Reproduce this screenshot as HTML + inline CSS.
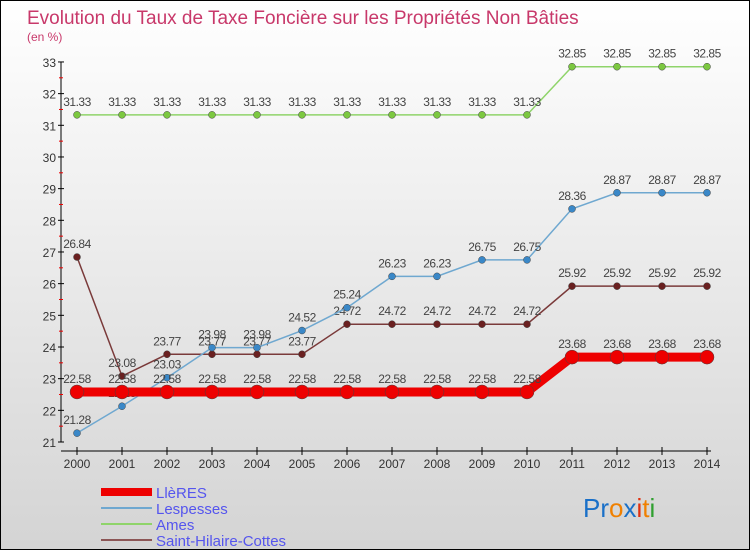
<!DOCTYPE html>
<html><head><meta charset="utf-8"><style>
body{margin:0}
#c{width:748px;height:548px;border:1px solid #000;background:linear-gradient(#fff,#d4d4d4);position:relative;font-family:"Liberation Sans",sans-serif;overflow:hidden}
</style></head><body>
<div id="c">
<svg id="s" width="748" height="548">
<text x="26" y="23" font-size="19" fill="#c8386a">Evolution du Taux de Taxe Foncière sur les Propriétés Non Bâties</text>
<text x="26" y="40" font-size="12" fill="#c8386a">(en %)</text>
<g id="ax"></g><g id="ser"></g>
<g font-size="15" fill="#5555ee">
<rect x="100" y="487" width="51" height="8" fill="#e00"/>
<text x="155" y="497">LlèRES</text>
<rect x="100" y="506" width="51" height="2" fill="#6fa8d0"/>
<text x="155" y="513">Lespesses</text>
<rect x="100" y="522" width="51" height="2" fill="#8fd46a"/>
<text x="155" y="529">Ames</text>
<rect x="100" y="538" width="51" height="2" fill="#8b5555"/>
<text x="155" y="545">Saint-Hilaire-Cottes</text>
</g>
<text x="582" y="516" font-size="26"><tspan fill="#1a70c8">Pr</tspan><tspan fill="#f08000">o</tspan><tspan fill="#1a70c8">x</tspan><tspan fill="#e03010">i</tspan><tspan fill="#f08000">t</tspan><tspan fill="#30a030">i</tspan></text>
</svg></div>
<script>
const years=[2000,2001,2002,2003,2004,2005,2006,2007,2008,2009,2010,2011,2012,2013,2014];
const lleres=[22.58,22.58,22.58,22.58,22.58,22.58,22.58,22.58,22.58,22.58,22.58,23.68,23.68,23.68,23.68];
const lespesses=[21.28,22.13,23.03,23.98,23.98,24.52,25.24,26.23,26.23,26.75,26.75,28.36,28.87,28.87,28.87];
const ames=[31.33,31.33,31.33,31.33,31.33,31.33,31.33,31.33,31.33,31.33,31.33,32.85,32.85,32.85,32.85];
const sh=[26.84,23.08,23.77,23.77,23.77,23.77,24.72,24.72,24.72,24.72,24.72,25.92,25.92,25.92,25.92];
const yTicks=[21,22,23,24,25,26,27,28,29,30,31,32,33];
const X=i=>76+i*45, Y=v=>441-(v-21)*31.67;
const NS="http://www.w3.org/2000/svg";
function mk(p,t,a){const e=document.createElementNS(NS,t);for(const k in a)e.setAttribute(k,a[k]);p.appendChild(e);return e;}
const ax=document.getElementById('ax');
let l=mk(ax,'line',{x1:60,y1:Y(33),x2:60,y2:Y(21),stroke:'#000'});


l=mk(ax,'line',{x1:60,y1:450,x2:710,y2:450,stroke:'#000'});


yTicks.forEach(v=>{
 mk(ax,'line',{x1:57,y1:Y(v),x2:63,y2:Y(v),stroke:'#000'});
 if(v<33)mk(ax,'line',{x1:58,y1:Y(v+0.5),x2:62,y2:Y(v+0.5),stroke:'#e00'});
 const t=mk(ax,'text',{x:55,y:Y(v)+5,'font-size':12,'text-anchor':'end',fill:'#333'});t.textContent=v;
 
 
});
years.forEach((y,i)=>{
 mk(ax,'line',{x1:X(i),y1:446,x2:X(i),y2:454,stroke:'#000'});
 const t=mk(ax,'text',{x:X(i),y:467,'font-size':12,'text-anchor':'middle',fill:'#333'});t.textContent=y;
 
 
});
const ser=document.getElementById('ser');
function draw(d,col,dot,w,r,name){
 const g=mk(ser,'g',{});
 
 
 mk(g,'polyline',{points:d.map((v,i)=>X(i)+','+Y(v)).join(' '),fill:'none',stroke:col,'stroke-width':w});
 d.forEach((v,i)=>{
  const c=mk(g,'circle',{cx:X(i),cy:Y(v),r:r,fill:dot,stroke:'#444','stroke-width':0.5});
  
  
  const t=mk(g,'text',{x:X(i),y:Y(v)-9,'font-size':12,'text-anchor':'middle',fill:'#444','letter-spacing':'-0.5'});t.textContent=v;
  
  
 });
}
draw(ames,'#8fd46a','#7cc840',1.5,3.5,'ames');
draw(sh,'#7a3a3a','#6a2020',1.5,3.5,'saint-hilaire');
draw(lespesses,'#6fa8d0','#3a88c8',1.5,3.5,'lespesses');
draw(lleres,'#ee0000','#ee0000',9,7,'lleres');
</script>
</body></html>
